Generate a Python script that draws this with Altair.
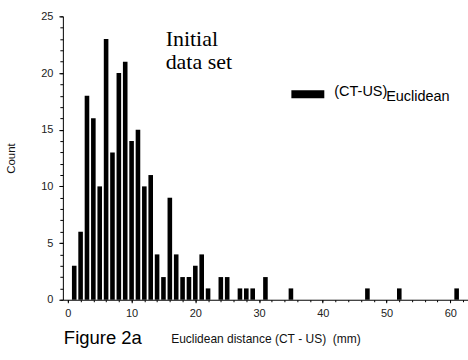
import altair as alt
import pandas as pd

# Data
distance_mm = [1, 2, 3, 4, 5, 6, 7, 8, 9, 10, 11, 12, 13, 14, 15, 16, 17, 18, 19, 20, 21, 22,
               24, 25, 27, 28, 29, 31, 35, 47, 52, 61]
count = [3, 6, 18, 16, 10, 23, 13, 20, 21, 14, 15, 10, 11, 4, 2, 9, 4, 2, 2, 3, 4, 1,
         2, 2, 1, 1, 1, 2, 1, 1, 1, 1]
x_major = [0, 10, 20, 30, 40, 50, 60]
x_minor = list(range(0, 63, 2))
y_major = [0, 5, 10, 15, 20, 25]
y_minor = list(range(0, 26))

df = pd.DataFrame({"d": distance_mm, "n": count})
one = pd.DataFrame({"k": [0]})

FONT = "Liberation Sans"
SERIF = "Liberation Serif"

xs = alt.Scale(domain=[0, 62], nice=False, zero=True)
ys = alt.Scale(domain=[0, 25], nice=False)

bars = alt.Chart(df).mark_bar(size=4.6, color="black").encode(
    x=alt.X("d:Q", scale=xs, axis=alt.Axis(
        values=x_major, format="d", grid=False, tickSize=3, labelPadding=5,
        title="Euclidean distance (CT\u00a0-\u00a0US)\u00a0\u00a0(mm)",
        titleFont=FONT, titleFontSize=12, titleFontWeight="normal", titleColor="#111",
        titlePadding=15, titleX=203)),
    y=alt.Y("n:Q", scale=ys, axis=alt.Axis(
        values=y_major, format="d", grid=False, tickSize=4, labelPadding=6,
        title="Count", titleFont=FONT, titleFontSize=11.5, titleFontWeight="normal",
        titleColor="#111", titleX=-46, titleY=142, titleAngle=270)),
)

minor = alt.Chart(df).mark_point(opacity=0).encode(
    x=alt.X("d:Q", scale=xs, axis=alt.Axis(
        values=x_minor, labels=False, domain=False, grid=False, tickSize=2,
        title=None, orient="bottom")),
    y=alt.Y("n:Q", scale=ys, axis=alt.Axis(
        values=y_minor, labels=False, domain=False, grid=False, tickSize=3,
        title=None, orient="left")),
)

initial1 = alt.Chart(one).mark_text(
    font=SERIF, fontSize=22, align="left", baseline="alphabetic", color="black",
).encode(x=alt.value(103), y=alt.value(30), text=alt.value("Initial"))

initial2 = alt.Chart(one).mark_text(
    font=SERIF, fontSize=22, align="left", baseline="alphabetic", color="black",
).encode(x=alt.value(103), y=alt.value(53), text=alt.value("data set"))

swatch = alt.Chart(one).mark_rect(color="black").encode(
    x=alt.value(229), x2=alt.value(262), y=alt.value(74), y2=alt.value(82))

leg1 = alt.Chart(one).mark_text(
    font=FONT, fontSize=14.5, align="left", baseline="alphabetic", color="black",
).encode(x=alt.value(272), y=alt.value(80), text=alt.value("(CT-US)"))

leg2 = alt.Chart(one).mark_text(
    font=FONT, fontSize=14.5, align="left", baseline="alphabetic", color="black",
).encode(x=alt.value(324), y=alt.value(85), text=alt.value("Euclidean"))

fig = alt.Chart(one).mark_text(
    font=FONT, fontSize=18.5, align="left", baseline="alphabetic", color="black",
).encode(x=alt.value(1), y=alt.value(328), text=alt.value("Figure 2a"))

chart = alt.layer(bars, minor, initial1, initial2, swatch, leg1, leg2, fig).resolve_axis(
    x="independent", y="independent"
).properties(
    width=406, height=284,
    autosize=alt.AutoSizeParams(type="none"),
    padding={"left": 63, "top": 16, "right": 0, "bottom": 60},
    background="white",
).configure_view(stroke=None).configure_axis(
    labelFont=FONT, labelFontSize=11, labelColor="#222",
    domainColor="black", tickColor="black", domainWidth=1, tickWidth=1,
)

chart.save("out.html", embed_options={"renderer": "svg", "actions": False})
